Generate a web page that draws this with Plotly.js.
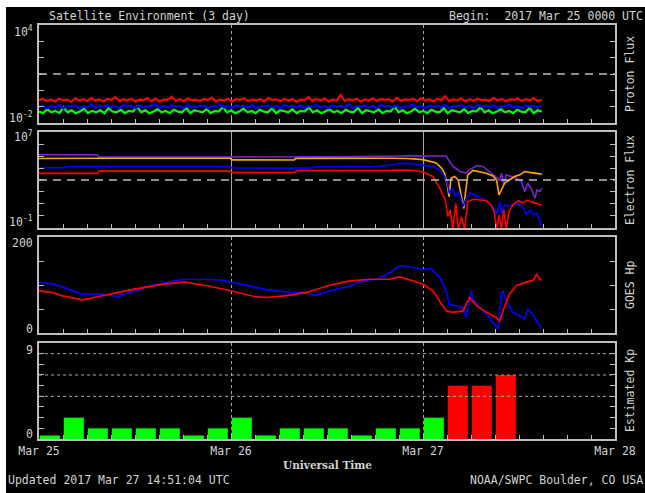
<!DOCTYPE html>
<html>
<head>
<meta charset="utf-8">
<script src="https://cdn.plot.ly/plotly-3.0.1.min.js"></script>
<style>
  html, body { margin: 0; padding: 0; background: #ffffff; }
  #chart { position: absolute; left: 6px; top: 7px; width: 639px; height: 486px; }
</style>
</head>
<body>
<div id="chart"></div>
<script>
// ---------------- DATA ----------------
// hours since 2017 Mar 25 00:00 UTC
const dayTickVals = [0, 24, 48, 72];
const dayTickText = ['Mar 25', 'Mar 26', 'Mar 27', 'Mar 28'];
const dataEndHour = 62.85; // Mar 27 14:51 UTC

// Proton flux (5-min data sampled every ~30 min), pfu
const protonRed = [0.24,0.30,0.22,0.28,0.21,0.31,0.25,0.27,0.20,0.33,0.23,0.29,0.22,0.35,0.24,0.28,0.21,0.30,0.26,0.38,0.22,0.29,0.24,0.31,0.21,0.27,0.25,0.34,0.22,0.30,0.20,0.28,0.26,0.41,0.23,0.29,0.21,0.32,0.24,0.27,0.22,0.30,0.25,0.36,0.21,0.28,0.23,0.31,0.20,0.29,0.26,0.33,0.22,0.27,0.24,0.30,0.21,0.35,0.25,0.28,0.22,0.31,0.23,0.29,0.20,0.27,0.25,0.39,0.22,0.30,0.24,0.32,0.21,0.28,0.23,0.52,0.22,0.29,0.25,0.31,0.21,0.28,0.24,0.33,0.22,0.30,0.26,0.29,0.21,0.36,0.23,0.28,0.25,0.31,0.22,0.34,0.24,0.29,0.21,0.30,0.25,0.43,0.22,0.28,0.24,0.32,0.21,0.29,0.23,0.31,0.25,0.27,0.22,0.35,0.24,0.30,0.21,0.28,0.26,0.32,0.22,0.29,0.24,0.33,0.21,0.28];
const protonBlue = [0.10,0.12,0.08,0.11,0.09,0.13,0.08,0.11,0.10,0.12,0.08,0.10,0.09,0.14,0.08,0.11,0.10,0.12,0.09,0.11,0.08,0.13,0.10,0.11,0.08,0.12,0.09,0.10,0.11,0.13,0.08,0.11,0.09,0.12,0.10,0.11,0.08,0.13,0.09,0.10,0.11,0.12,0.08,0.11,0.10,0.14,0.09,0.11,0.08,0.12,0.10,0.11,0.09,0.13,0.08,0.10,0.11,0.12,0.09,0.11,0.08,0.13,0.10,0.11,0.09,0.12,0.08,0.11,0.10,0.13,0.09,0.11,0.08,0.12,0.10,0.11,0.09,0.14,0.08,0.11,0.10,0.12,0.09,0.11,0.08,0.13,0.10,0.11,0.09,0.12,0.08,0.10,0.11,0.13,0.09,0.11,0.08,0.12,0.10,0.11,0.09,0.13,0.08,0.11,0.10,0.12,0.09,0.11,0.08,0.13,0.10,0.11,0.09,0.12,0.08,0.10,0.11,0.13,0.09,0.11,0.08,0.12,0.10,0.11,0.09,0.12];
const protonGreen = [0.05,0.04,0.07,0.045,0.055,0.04,0.09,0.045,0.06,0.04,0.05,0.075,0.04,0.055,0.045,0.06,0.04,0.08,0.05,0.045,0.065,0.04,0.055,0.05,0.10,0.045,0.06,0.04,0.05,0.07,0.045,0.055,0.04,0.065,0.05,0.045,0.085,0.04,0.06,0.05,0.045,0.07,0.04,0.055,0.05,0.095,0.045,0.06,0.04,0.05,0.075,0.045,0.055,0.04,0.065,0.05,0.045,0.08,0.04,0.06,0.05,0.045,0.07,0.04,0.055,0.05,0.09,0.045,0.06,0.04,0.05,0.07,0.045,0.055,0.04,0.065,0.05,0.045,0.085,0.04,0.06,0.05,0.045,0.07,0.04,0.055,0.05,0.10,0.045,0.06,0.04,0.05,0.075,0.045,0.055,0.04,0.065,0.05,0.045,0.08,0.04,0.06,0.05,0.045,0.07,0.04,0.055,0.05,0.09,0.045,0.06,0.04,0.05,0.07,0.045,0.055,0.04,0.065,0.05,0.045,0.085,0.04,0.06,0.05];

// Electron flux
const ePurpleT = [0,2,3.5,5,7.3,7.5,10,12.5,15,17.5,20,22.5,24,26,28,30,32,34,36,38,40,42,44,45,46,47,48,49,50,50.9,51.3,51.75,52.6,53.4,53.8,54.7,55.5,56.3,57.2,57.6,57.8,58.1,58.4,59.0,59.7,60.3,60.7,61.1,61.5,62.0,62.25,62.6,62.85];
const ePurpleV = [1.3e5,1.25e5,1.3e5,1.28e5,1.25e5,8.2e4,8.0e4,8.3e4,8.1e4,8.4e4,8.0e4,8.2e4,8.3e4,8.6e4,8.4e4,8.5e4,8.3e4,8.6e4,8.4e4,8.5e4,8.7e4,8.6e4,9.0e4,1.0e5,1.05e5,1.03e5,1.06e5,1.04e5,1.05e5,1.0e5,3.6e4,1.35e4,5.1e3,3.7e3,7.1e3,1.55e4,1.35e4,5.1e3,1.95e3,1.0e3,3.7e3,390,2.7e3,1.95e3,1.4e3,740,107,540,205,30,150,107,205];
const eOrangeT = [0,3,7.3,7.5,10,13,16,19,22,23.9,24.1,27,30,31.9,32.1,35,38,41,44,46,48,49.67,50.3,50.7,51.0,51.25,51.5,51.95,52.4,52.8,53.1,53.3,53.6,54.25,55.1,55.9,56.75,57.2,57.5,57.8,58.2,58.8,59.45,60.1,60.7,61.3,62.2,62.85];
const eOrangeV = [6.2e4,6.0e4,6.2e4,6.5e4,6.6e4,6.4e4,6.6e4,6.5e4,6.7e4,6.5e4,4.8e4,4.6e4,4.8e4,4.7e4,6.3e4,6.5e4,6.4e4,6.6e4,6.5e4,6.2e4,5.0e4,2.6e4,9.8e3,3.7e3,540,41,1.4e3,1.95e3,1.0e3,41,4.2,78,2.7e3,6.3e3,5.1e3,3.7e3,2.2e3,1.0e3,56,150,540,1.0e3,1.95e3,2.7e3,5.1e3,4.3e3,3.7e3,3.1e3];
const eBlueT = [0,3.3,3.5,8,12,16,20,23.9,24.1,28,31,34,34.2,38,42,44,45.1,46.5,48,49.25,50.1,50.7,51.1,51.3,51.7,52.1,52.5,53.0,53.3,53.9,54.5,55.3,56.1,56.9,57.3,57.6,57.8,58.2,58.8,59.45,60.1,60.6,60.9,61.4,61.8,62.25,62.6,62.85];
const eBlueV = [1.05e4,1.08e4,1.3e4,1.28e4,1.32e4,1.3e4,1.33e4,1.3e4,1.0e4,9.6e3,1.0e4,9.8e3,1.2e4,1.25e4,1.3e4,1.8e4,2.5e4,2.3e4,1.8e4,1.3e4,6.8e3,1.9e3,380,78,200,41,107,6,21,87,56,30,15.5,4.3,1.7,15.5,1.7,8.3,6.8,11.5,8.3,4.3,1.2,3.2,1.2,1.7,0.47,0.13];
const eRedT = [0,7.3,7.5,12,16,20,23.9,24.1,28,32,32.2,36,40,44,45.1,46.5,48,49.25,50.1,50.8,51.1,51.4,51.75,52.1,52.4,52.8,53.2,53.6,54.25,55.1,55.9,56.5,56.9,57.2,57.5,57.8,58.1,58.4,58.75,59.25,59.9,60.5,61.1,61.75,62.4,62.85];
const eRedV = [3.6e3,3.6e3,5.5e3,5.6e3,5.4e3,5.7e3,5.5e3,4.1e3,4.0e3,4.2e3,6.0e3,5.9e3,6.1e3,6.3e3,6.8e3,6.5e3,4.9e3,1.9e3,200,21,0.87,3.2,0.08,11.5,0.08,0.87,0.08,15.5,25,21,19,8.3,2.3,0.08,1.2,0.08,3.2,0.08,2.3,8.3,19,13,21,13,10,8.3];

// GOES Hp (nT)
const hpBlueT = [0,1.8,3.6,5.4,7.9,9.2,10,10.5,12.1,14.1,16.7,18.2,20.8,22.8,24,25.9,28.5,31,33.6,34.6,36.2,38.7,40.3,42.3,43.8,45.1,46.4,47.9,49,50.1,50.9,51.3,51.96,53,53.4,54,54.25,55.1,56.1,57,57.4,57.8,58,58.4,59.25,60.1,60.7,61.1,61.75,62.2,62.6,62.85];
const hpBlueV = [106,102,92,81,81,78,74,80,88,99,108,112,112,110,106,99,90,85,83,78,87,97,108,113,125,140,138,132,134,116,88,60,57,53,32,88,71,53,36,15,8,81,88,67,43,36,29,50,39,25,15,12];
const hpRedT = [0,1.8,2.8,5.4,6.2,6.9,9.5,12.1,15.6,18.2,20.8,24,26.9,28.5,31,33.6,36.2,38.7,41.3,43.8,45.1,46.4,48,49.25,50.1,50.9,51.75,53,53.8,54.7,55.9,57.2,57.6,58,58.8,59.7,60.9,61.75,62.2,62.6,62.85];
const hpRedV = [88,84,78,69,71,74,83,92,102,106,99,88,76,74,78,85,99,108,112,112,117,110,102,88,67,46,43,46,74,57,43,32,25,46,81,99,106,109,123,112,110];

// Estimated Kp, 3-hour intervals starting Mar 25 00 UTC
const kpValues = [0.33,2,1,1,1,1,0.33,1, 2,0.33,1,1,1,0.33,1,1, 2,5,5,6];

// ---------------- STYLE / BUILD ----------------
const txt = '#d2d2d2';
const border = '#bcbcbc';
const grid = '#a8a8a8';
const mono = 'DejaVu Sans Mono, monospace';

function evenTimes(vals) {
  const n = vals.length;
  return vals.map((_, i) => i * dataEndHour / (n - 1));
}

const traces = [
  {x: evenTimes(protonGreen), y: protonGreen, xaxis: 'x', yaxis: 'y', mode: 'lines', line: {color: '#00ff00', width: 2.2}},
  {x: evenTimes(protonBlue), y: protonBlue, xaxis: 'x', yaxis: 'y', mode: 'lines', line: {color: '#0000ff', width: 2.2}},
  {x: evenTimes(protonRed), y: protonRed, xaxis: 'x', yaxis: 'y', mode: 'lines', line: {color: '#ff0000', width: 2.2}},
  {x: ePurpleT, y: ePurpleV, xaxis: 'x2', yaxis: 'y2', mode: 'lines', line: {color: '#7a22d0', width: 1.6}},
  {x: eOrangeT, y: eOrangeV, xaxis: 'x2', yaxis: 'y2', mode: 'lines', line: {color: '#ffa500', width: 1.6}},
  {x: eBlueT, y: eBlueV, xaxis: 'x2', yaxis: 'y2', mode: 'lines', line: {color: '#0000ff', width: 1.6}},
  {x: eRedT, y: eRedV, xaxis: 'x2', yaxis: 'y2', mode: 'lines', line: {color: '#ff0000', width: 1.6}},
  {x: hpBlueT, y: hpBlueV, xaxis: 'x3', yaxis: 'y3', mode: 'lines', line: {color: '#0000ff', width: 1.7}},
  {x: hpRedT, y: hpRedV, xaxis: 'x3', yaxis: 'y3', mode: 'lines', line: {color: '#ff0000', width: 1.7}},
  {x: kpValues.map((_, i) => 3 * i), y: kpValues, xaxis: 'x4', yaxis: 'y4', type: 'bar',
   width: 2.5, offset: 0.1,
   marker: {color: kpValues.map(v => v >= 5 ? '#ff0000' : (v >= 4 ? '#ffff00' : '#00ff00')), line: {width: 0}}}
];

function xAx(anchor, dash, showLabels) {
  return {
    anchor: anchor, domain: [0, 1], range: [0, 72], fixedrange: true,
    showline: true, linecolor: border, linewidth: 2, mirror: true,
    tickmode: 'array', tickvals: dayTickVals, ticktext: dayTickText,
    ticks: 'inside', ticklen: 5, tickcolor: border, tickwidth: 1,
    showticklabels: showLabels, tickfont: {family: mono, size: 11.5, color: txt},
    showgrid: true, gridcolor: grid, gridwidth: 1, griddash: dash,
    zeroline: false,
    minor: {tickmode: 'linear', tick0: 0, dtick: 3, ticks: 'inside', ticklen: 4, tickcolor: border, showgrid: false}
  };
}
function yAx(anchor, domain, type, range, tickvals) {
  return {
    anchor: anchor, domain: domain, type: type, range: range, fixedrange: true,
    showline: true, linecolor: border, linewidth: 2, mirror: 'ticks',
    tickmode: 'array', tickvals: tickvals,
    ticks: 'inside', ticklen: 5, tickcolor: border, tickwidth: 1,
    showticklabels: false, showgrid: false, zeroline: false
  };
}

const L = 33, T = 18, PW = 576, PH = 414;
const px = x => (x - L) / PW;
const py = y => (T + PH - y) / PH;

const d1 = [0.7633, 1], d2 = [0.5097, 0.7415], d3 = [0.2560, 0.4879], d4 = [0, 0.2319];

const leftLabels = [
  {t: '10<sup>4</sup>', y: 25}, {t: '10<sup>-2</sup>', y: 110},
  {t: '10<sup>7</sup>', y: 129}, {t: '10<sup>-1</sup>', y: 214},
  {t: '200', y: 236}, {t: '0', y: 322},
  {t: '9', y: 343}, {t: '0', y: 427}
];
const rightLabels = ['Proton Flux', 'Electron Flux', 'GOES Hp', 'Estimated Kp'];
const domains = [d1, d2, d3, d4];

const annotations = [];
leftLabels.forEach(l => annotations.push({
  xref: 'paper', yref: 'paper', x: px(29), y: py(l.y), xanchor: 'right', yanchor: 'middle',
  text: l.t, showarrow: false, font: {family: mono, size: 11.5, color: txt}
}));
rightLabels.forEach((t, i) => annotations.push({
  xref: 'paper', yref: 'paper', x: px(624), y: (domains[i][0] + domains[i][1]) / 2,
  xanchor: 'center', yanchor: 'middle', textangle: -90,
  text: t, showarrow: false, font: {family: mono, size: 11.5, color: txt}
}));
annotations.push(
  {xref: 'paper', yref: 'paper', x: px(41), y: py(9), xanchor: 'left', yanchor: 'middle', showarrow: false,
   text: 'Satellite Environment (3 day)', font: {family: mono, size: 11.5, color: txt}},
  {xref: 'paper', yref: 'paper', x: px(639), y: py(9), xanchor: 'right', yanchor: 'middle', showarrow: false,
   text: 'Begin:  2017 Mar 25 0000 UTC', font: {family: mono, size: 11.5, color: txt}},
  {xref: 'paper', yref: 'paper', x: 0.5, y: py(458), xanchor: 'center', yanchor: 'middle', showarrow: false,
   text: '<b>Universal Time</b>', font: {family: 'DejaVu Serif, serif', size: 10.5, color: txt}},
  {xref: 'paper', yref: 'paper', x: px(0), y: py(473), xanchor: 'left', yanchor: 'middle', showarrow: false,
   text: 'Updated 2017 Mar 27 14:51:04 UTC', font: {family: mono, size: 11.5, color: txt}},
  {xref: 'paper', yref: 'paper', x: px(639), y: py(473), xanchor: 'right', yanchor: 'middle', showarrow: false,
   text: 'NOAA/SWPC Boulder, CO USA', font: {family: mono, size: 11.5, color: txt}}
);

const shapes = [
  {type: 'line', xref: 'x domain', yref: 'y domain', x0: 0, x1: 1, y0: 0.5, y1: 0.5, line: {color: border, width: 1.5, dash: '8px,6px'}},
  {type: 'line', xref: 'x2 domain', yref: 'y2 domain', x0: 0, x1: 1, y0: 0.5, y1: 0.5, line: {color: border, width: 1.5, dash: '8px,6px'}}
];
[4, 6, 8].forEach(k => shapes.push({type: 'line', xref: 'x4 domain', yref: 'y4', x0: 0, x1: 1, y0: k, y1: k,
  line: {color: grid, width: 1, dash: 'dot'}}));

const layout = {
  width: 639, height: 486,
  margin: {l: L, r: 30, t: T, b: 54, pad: 0},
  paper_bgcolor: '#000000', plot_bgcolor: '#000000',
  showlegend: false,
  font: {family: mono, size: 11.5, color: txt},
  xaxis: xAx('y', 'dot', false),
  xaxis2: xAx('y2', 'solid', false),
  xaxis3: xAx('y3', 'dot', false),
  xaxis4: xAx('y4', 'dot', true),
  yaxis: yAx('x', d1, 'log', [-2, 4], [1e-2, 1e-1, 1, 10, 100, 1e3, 1e4]),
  yaxis2: yAx('x2', d2, 'log', [-1, 7], [1e-1, 1, 10, 100, 1e3, 1e4, 1e5, 1e6, 1e7]),
  yaxis3: yAx('x3', d3, 'linear', [0, 200], [0, 50, 100, 150, 200]),
  yaxis4: yAx('x4', d4, 'linear', [0, 9], [0, 1, 2, 3, 4, 5, 6, 7, 8, 9]),
  annotations: annotations,
  shapes: shapes
};

Plotly.newPlot('chart', traces, layout, {staticPlot: true, displayModeBar: false});
</script>
</body>
</html>
